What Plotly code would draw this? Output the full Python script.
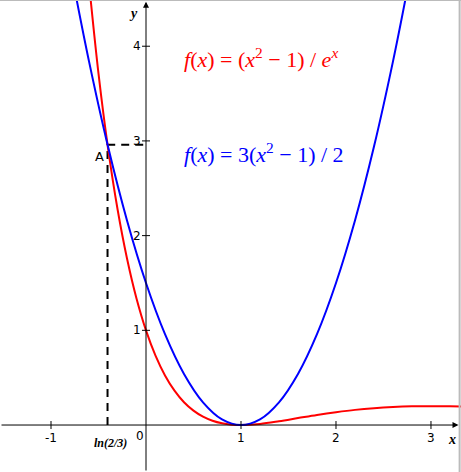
import plotly.graph_objects as go

# Red curve samples
red_x = [-0.6, -0.5, -0.4, -0.3, -0.2, -0.1, 0.0, 0.1, 0.2, 0.3, 0.4, 0.5, 0.6, 0.7, 0.8, 0.9, 1.0,
         1.2, 1.4, 1.6, 1.8, 2.0, 2.2, 2.4, 2.6, 2.8, 3.0, 3.2, 3.4]
red_y = [4.665, 3.710, 2.924, 2.281, 1.759, 1.337, 1.0, 0.733, 0.524, 0.363, 0.241, 0.152, 0.088,
         0.045, 0.018, 0.004, 0.0, 0.012, 0.040, 0.073, 0.106, 0.135, 0.160, 0.178, 0.190, 0.197,
         0.199, 0.197, 0.192]

# Blue curve samples
blue_x = [-0.75, -0.6, -0.4, -0.2, 0.0, 0.2, 0.4, 0.6, 0.8, 1.0, 1.2, 1.4, 1.6, 1.8, 2.0, 2.2, 2.4, 2.6, 2.75]
blue_y = [4.594, 3.84, 2.94, 2.16, 1.5, 0.96, 0.54, 0.24, 0.06, 0.0, 0.06, 0.24, 0.54, 0.96, 1.5, 2.16,
          2.94, 3.84, 4.594]

# Intersection point A
A_x = -0.405
A_y = 2.96

x_ticks = [-1, 1, 2, 3]
x_tick_labels = ["-1", "1", "2", "3"]
y_ticks = [1, 2, 3, 4]
y_tick_labels = ["1", "2", "3", "4"]

red_label = "<i>f</i>(<i>x</i>) = (<i>x</i><sup>2</sup> − 1) / <i>e</i><sup><i>x</i></sup>"
blue_label = "<i>f</i>(<i>x</i>) = 3(<i>x</i><sup>2</sup> − 1) / 2"

X_MIN, X_MAX = -1.537, 3.316
Y_MIN, Y_MAX = -0.496, 4.488

fig = go.Figure()

# dashed guide lines
fig.add_trace(go.Scatter(x=[A_x, A_x, 0], y=[0, A_y, A_y], mode="lines",
                         line=dict(color="black", width=2, dash="8px,6px"), hoverinfo="skip"))

fig.add_trace(go.Scatter(x=red_x, y=red_y, mode="lines",
                         line=dict(color="#ff0000", width=2, shape="spline"), hoverinfo="skip"))
fig.add_trace(go.Scatter(x=blue_x, y=blue_y, mode="lines",
                         line=dict(color="#0000ff", width=2, shape="spline"), hoverinfo="skip"))

annotations = []
shapes = []

# axes with arrows
annotations.append(dict(x=3.29, y=0, ax=X_MIN, ay=0, xref="x", yref="y", axref="x", ayref="y",
                        text="", showarrow=True, arrowhead=2, arrowwidth=1, arrowsize=1.2,
                        arrowcolor="black"))
annotations.append(dict(x=0, y=4.47, ax=0, ay=Y_MIN, xref="x", yref="y", axref="x", ayref="y",
                        text="", showarrow=True, arrowhead=2, arrowwidth=1, arrowsize=1.2,
                        arrowcolor="black"))

tick_font = dict(family="DejaVu Sans", size=12, color="black")
for v, t in zip(x_ticks, x_tick_labels):
    shapes.append(dict(type="line", xref="x", yref="y", x0=v, x1=v, ysizemode="pixel", yanchor=0,
                       y0=-4, y1=4, line=dict(color="black", width=1)))
    annotations.append(dict(x=v, y=0, xref="x", yref="y", text=t, showarrow=False,
                            yanchor="top", yshift=-4, font=tick_font))
for v, t in zip(y_ticks, y_tick_labels):
    shapes.append(dict(type="line", xref="x", yref="y", y0=v, y1=v, xsizemode="pixel", xanchor=0,
                       x0=-4, x1=4, line=dict(color="black", width=1)))
    annotations.append(dict(x=0, y=v, xref="x", yref="y", text=t, showarrow=False,
                            xanchor="right", xshift=-3, font=tick_font))
annotations.append(dict(x=0, y=0, xref="x", yref="y", text="0", showarrow=False,
                        xanchor="right", yanchor="top", xshift=0, yshift=-2, font=tick_font))

axis_font = dict(family="Liberation Serif", size=14, color="black")
annotations.append(dict(x=X_MAX, y=0, xref="x", yref="y", text="<b><i>x</i></b>", showarrow=False,
                        xanchor="right", yanchor="top", xshift=-3, yshift=-5, font=axis_font))
annotations.append(dict(x=0, y=Y_MAX, xref="x", yref="y", text="<b><i>y</i></b>", showarrow=False,
                        xanchor="right", yanchor="top", xshift=-6, yshift=-4, font=axis_font))

annotations.append(dict(x=A_x, y=0, xref="x", yref="y", text="<b><i>ln(2/3)</i></b>", showarrow=False,
                        yanchor="top", yshift=-9, xshift=3,
                        font=dict(family="Liberation Serif", size=12, color="black")))
annotations.append(dict(x=A_x, y=A_y, xref="x", yref="y", text="A", showarrow=False,
                        xanchor="right", yanchor="top", xshift=-2, yshift=-2,
                        font=dict(family="DejaVu Sans", size=13, color="black")))

annotations.append(dict(x=0.379, y=3.875, xref="x", yref="y", text=red_label, showarrow=False,
                        xanchor="left", yanchor="middle",
                        font=dict(family="Liberation Serif", size=22, color="#ff0000")))
annotations.append(dict(x=0.379, y=2.87, xref="x", yref="y", text=blue_label, showarrow=False,
                        xanchor="left", yanchor="middle",
                        font=dict(family="Liberation Serif", size=22, color="#0000ff")))

# thin grey frame top and right
shapes.append(dict(type="line", xref="paper", yref="paper", x0=0, x1=1, y0=1, y1=1,
                   line=dict(color="#bbbbbb", width=2)))
shapes.append(dict(type="line", xref="paper", yref="paper", x0=0.997, x1=0.997, y0=0, y1=1,
                   line=dict(color="#bbbbbb", width=2)))

fig.update_layout(
    width=461, height=472,
    margin=dict(l=0, r=0, t=0, b=0),
    paper_bgcolor="white", plot_bgcolor="white",
    showlegend=False,
    xaxis=dict(range=[X_MIN, X_MAX], visible=False, fixedrange=True),
    yaxis=dict(range=[Y_MIN, Y_MAX], visible=False, fixedrange=True),
    annotations=annotations,
    shapes=shapes,
)

fig.write_html("out.html", config={"displayModeBar": False},
               post_script="document.body.style.margin='0';")
